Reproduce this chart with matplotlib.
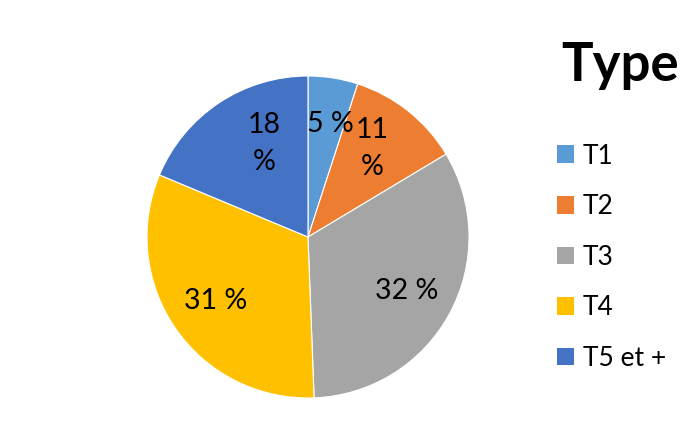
import matplotlib.pyplot as plt
from matplotlib.patches import Patch

# data
types = ["T1", "T2", "T3", "T4", "T5 et +"]
shares = [5.0, 11.4, 33.0, 31.9, 18.7]
pct_labels = ["5 %", "11\n%", "32 %", "31 %", "18\n%"]
colors = ["#5B9BD5", "#ED7D31", "#A5A5A5", "#FFC000", "#4472C4"]

plt.rcParams['font.family'] = ['Lato', 'DejaVu Sans']

fig = plt.figure(figsize=(6.98, 4.23), dpi=100)
# pie centre ~ (308, 237) px, radius ~161 px
cx, cy, r = 308, 237, 161
ax = fig.add_axes([(cx - r) / 698, (423 - cy - r) / 423, 2 * r / 698, 2 * r / 423])

labels_iter = iter(pct_labels)
wedges, _, autotexts = ax.pie(
    shares, colors=colors, startangle=90, counterclock=False,
    autopct=lambda p: next(labels_iter), pctdistance=0.7,
    wedgeprops=dict(edgecolor="white", linewidth=0.8),
    textprops=dict(fontsize=20.5, color="black", linespacing=1.55),
)
# nudge the wrapped labels like the original
autotexts[0].set_position((0.14, 0.70))
autotexts[1].set_position((0.40, 0.55))
autotexts[4].set_position((-0.27, 0.58))
ax.set_xlim(-1, 1)
ax.set_ylim(-1, 1)
ax.set_aspect("equal")

handles = [Patch(facecolor=c, edgecolor="none") for c in colors]
leg = fig.legend(handles, types, loc="upper left", bbox_to_anchor=(546 / 698, 1 - 133 / 423),
                 frameon=False, fontsize=19, handlelength=0.65, handleheight=0.65,
                 handletextpad=0.35, labelspacing=0.97, borderaxespad=0)
fig.text(620 / 698, 1 - 65 / 423, "Type", fontsize=38, fontweight="bold",
         ha="center", va="center")

fig.savefig("out.png", dpi=100)
